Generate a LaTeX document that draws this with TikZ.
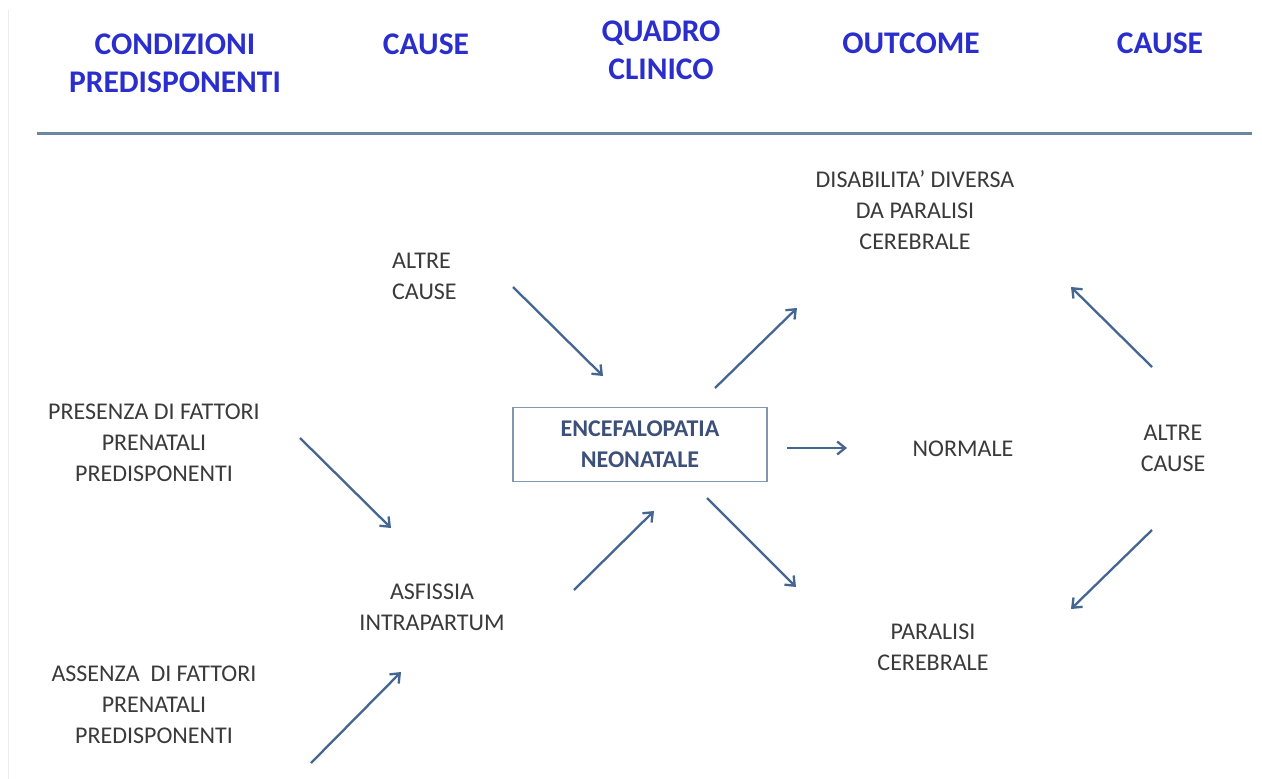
\documentclass[tikz,border=0pt]{standalone}
\usepackage{fontspec}
\setmainfont{Carlito}
\usetikzlibrary{arrows.meta}
\definecolor{headblue}{RGB}{42,46,204}
\definecolor{textgray}{RGB}{58,58,58}
\definecolor{boxtext}{RGB}{60,80,122}
\definecolor{arrowc}{RGB}{68,102,144}
\definecolor{boxborder}{RGB}{130,150,175}
\definecolor{sepline}{RGB}{108,134,160}
\tikzset{
  head/.style={font=\fontsize{31.5}{38}\selectfont\bfseries, text=headblue, align=center, inner sep=0pt},
  body/.style={font=\fontsize{24}{31}\selectfont, text=textgray, align=center, inner sep=0pt},
  mainbox/.style={draw=boxborder, line width=1.5pt, minimum width=254pt, minimum height=74pt, inner sep=0pt,
     font=\fontsize{24}{31}\selectfont\bfseries, text=boxtext, align=center},
  arr/.style={draw=arrowc, line width=2.3pt, -{Straight Barb[length=8pt,width=13pt,line width=2.3pt]}}
}
\begin{document}
\begin{tikzpicture}[x=1pt,y=-1pt]
\path[use as bounding box, fill=white] (0,0) rectangle (1262,779);
% faint slide edge
\draw[gray!15, line width=1pt] (8,10) -- (8,779);
% header
\node[head] (h1) at (175,63) {CONDIZIONI\\PREDISPONENTI};
\node[head] (h2) at (426,44) {CAUSE};
\node[head] (h3) at (661,50) {QUADRO\\CLINICO};
\node[head] (h4) at (911,43) {OUTCOME};
\node[head] (h5) at (1160,43) {CAUSE};
\coordinate (sepL) at (37,133);
\coordinate (sepR) at (1252,133);
\draw[sepline, line width=3pt] (sepL) -- (sepR);
% body nodes
\node[body] (dis) at (915,210) {DISABILITA’ DIVERSA\\DA PARALISI\\CEREBRALE};
\node[body, align=left, anchor=west] (altreL) at (392,276) {ALTRE\\CAUSE};
\node[body] (pres) at (154,443) {PRESENZA DI FATTORI\\PRENATALI\\PREDISPONENTI};
\node[mainbox] (enc) at (640,444.5) {ENCEFALOPATIA\\NEONATALE};
\node[body] (norm) at (963,449) {NORMALE};
\node[body] (altreR) at (1173,448) {ALTRE\\CAUSE};
\node[body] (asf) at (432,607) {ASFISSIA\\INTRAPARTUM};
\node[body] (par) at (933,647) {PARALISI\\CEREBRALE};
\node[body] (ass) at (154,705) {ASSENZA\ \ DI FATTORI\\PRENATALI\\PREDISPONENTI};
% connector end points
\coordinate (a1s) at (513,287);  \coordinate (a1e) at (603,376);
\coordinate (a2s) at (715,388);  \coordinate (a2e) at (797,308);
\coordinate (a3s) at (787,448);  \coordinate (a3e) at (847,448);
\coordinate (a4s) at (707,498);  \coordinate (a4e) at (796,587);
\coordinate (a5s) at (574,590);  \coordinate (a5e) at (654,511);
\coordinate (a6s) at (300,438);  \coordinate (a6e) at (391,528);
\coordinate (a7s) at (311,763);  \coordinate (a7e) at (401,672);
\coordinate (a8s) at (1152,367); \coordinate (a8e) at (1071,287);
\coordinate (a9s) at (1152,530); \coordinate (a9e) at (1071,609);
% connectors
\draw[arr] (a1s) -- (a1e); % altre cause -> encefalopatia
\draw[arr] (a2s) -- (a2e); % encefalopatia -> disabilita
\draw[arr] (a3s) -- (a3e); % encefalopatia -> normale
\draw[arr] (a4s) -- (a4e); % encefalopatia -> paralisi
\draw[arr] (a5s) -- (a5e); % asfissia -> encefalopatia
\draw[arr] (a6s) -- (a6e); % presenza -> asfissia
\draw[arr] (a7s) -- (a7e); % assenza -> asfissia
\draw[arr] (a8s) -- (a8e); % altre cause -> disabilita
\draw[arr] (a9s) -- (a9e); % altre cause -> paralisi
\end{tikzpicture}
\end{document}
